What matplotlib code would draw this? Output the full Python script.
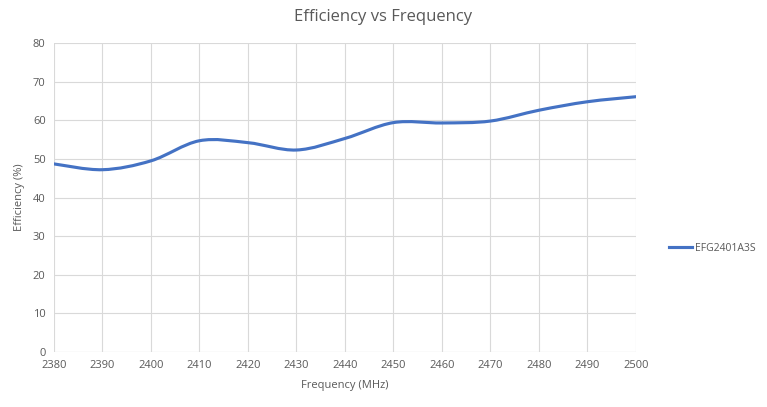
import numpy as np
import matplotlib.pyplot as plt
from matplotlib.path import Path
from matplotlib.patches import PathPatch
from matplotlib.lines import Line2D

plt.rcParams['font.family'] = ['Open Sans', 'DejaVu Sans']

freq = [2380, 2390, 2400, 2410, 2420, 2430, 2440, 2450, 2460, 2470, 2480, 2490, 2500]
efficiency = [48.7, 47.2, 49.5, 54.7, 54.2, 52.3, 55.3, 59.4, 59.3, 59.8, 62.6, 64.8, 66.1]
series_name = 'EFG2401A3S'
line_color = '#4472C4'


def smooth_path(xs, ys):
    # Excel-style smoothed line: cubic Bezier through each point
    pts = np.column_stack([xs, ys]).astype(float)
    padded = np.vstack([pts[0], pts, pts[-1]])
    verts = [pts[0]]
    codes = [Path.MOVETO]
    for i in range(len(pts) - 1):
        p0, p1, p2, p3 = padded[i], padded[i + 1], padded[i + 2], padded[i + 3]
        c1 = p1 + (p2 - p0) / 6
        c2 = p2 - (p3 - p1) / 6
        verts += [c1, c2, p2]
        codes += [Path.CURVE4] * 3
    return Path(verts, codes)


fig = plt.figure(figsize=(7.67, 4.07), dpi=100)
ax = fig.add_axes([0.0704, 0.1351, 0.7588, 0.7592])

ax.add_patch(PathPatch(smooth_path(freq, efficiency), facecolor='none',
                       edgecolor=line_color, linewidth=2.25, capstyle='round'))

ax.set_xlim(2380, 2500)
ax.set_ylim(0, 80)
ax.set_xticks(np.arange(2380, 2501, 10))
ax.set_yticks(np.arange(0, 81, 10))
ax.grid(True, color='#d9d9d9', linewidth=0.8)
ax.set_axisbelow(True)
for s in ax.spines.values():
    s.set_visible(False)
ax.axhline(0, color='#d9d9d9', linewidth=0.8, zorder=0)
ax.tick_params(length=0, labelsize=8, colors='#595959', pad=6)

fig.text(0.5, 1 - 17 / 407, 'Efficiency vs Frequency', fontsize=12,
         color='#595959', ha='center', va='center')
ax.set_xlabel('Frequency (MHz)', fontsize=8, color='#595959', labelpad=6)
ax.set_ylabel('Efficiency (%)', fontsize=8, color='#595959', labelpad=6)

handle = Line2D([], [], color=line_color, linewidth=2.25)
fig.legend([handle], [series_name], loc='center left', bbox_to_anchor=(0.86, 0.39),
           frameon=False, fontsize=7.5, labelcolor='#595959', handlelength=2.2,
           handletextpad=0.3)

fig.savefig('out.png', dpi=100)
plt.close(fig)
